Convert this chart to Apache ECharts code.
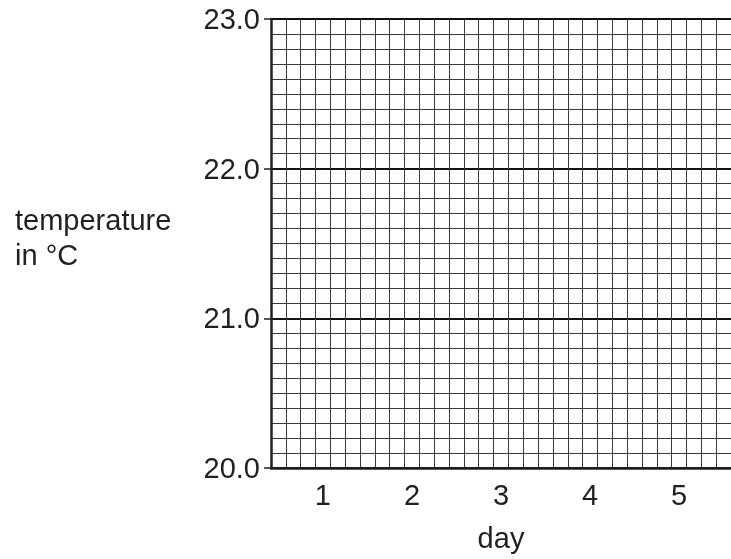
<!DOCTYPE html>
<html>
<head>
<meta charset="utf-8">
<script src="https://cdn.jsdelivr.net/npm/echarts@6/dist/echarts.min.js"></script>
<style>
html,body{margin:0;padding:0;background:#fff;}
#chart{width:731px;height:559px;}
</style>
</head>
<body>
<div id="chart"></div>
<script>
// ---- data ----
const days = [1, 2, 3, 4, 5];
const dayLabels = ['1', '2', '3', '4', '5'];
const temperatureValues = []; // blank graph: no readings plotted
const yMin = 20.0, yMax = 23.0, yMajorStep = 1.0, yMinorDivisions = 10;
const cellsPerDay = 6, totalCells = 31;
const dayAxisMin = 1 - 3.5 / cellsPerDay;
const dayAxisMax = dayAxisMin + totalCells / cellsPerDay;

const FONT = '"Liberation Sans", Arial, Helvetica, sans-serif';
const INK = '#231f20';
const FS = 29;

const chart = echarts.init(document.getElementById('chart'), null, {renderer: 'canvas'});
chart.setOption({
  animation: false,
  backgroundColor: '#ffffff',
  textStyle: {fontFamily: FONT},
  title: {
    text: 'temperature\nin\u00a0°C',
    left: 10, top: 199,
    textStyle: {fontFamily: FONT, fontSize: FS, fontWeight: 'normal', color: INK, lineHeight: 35}
  },
  grid: {left: 271, top: 19, right: -9, bottom: 87, containLabel: false},
  xAxis: [
    {
      type: 'value', position: 'top', min: 0, max: totalCells, interval: 1,
      axisLine: {show: false}, axisTick: {show: false}, axisLabel: {show: false},
      splitLine: {show: true, lineStyle: {color: '#3a3a3a', width: 1}}
    },
    {
      type: 'value', position: 'bottom', min: dayAxisMin, max: dayAxisMax,
      axisLine: {show: true, onZero: false, lineStyle: {color: INK, width: 2.5}},
      axisTick: {show: false},
      splitLine: {show: false},
      axisLabel: {
        show: true, customValues: days, margin: 14,
        fontFamily: FONT, fontSize: FS, color: INK,
        formatter: function (v) { const i = days.indexOf(Math.round(v)); return i >= 0 ? dayLabels[i] : ''; }
      },
      name: 'day', nameLocation: 'middle', nameGap: 57,
      nameTextStyle: {fontFamily: FONT, fontSize: FS, color: INK}
    }
  ],
  yAxis: {
    type: 'value', min: yMin, max: yMax, interval: yMajorStep,
    axisLine: {show: true, onZero: false, lineStyle: {color: INK, width: 2.5}},
    axisTick: {show: true, length: 7, lineStyle: {color: INK, width: 1.5}},
    axisLabel: {
      margin: 11, fontFamily: FONT, fontSize: FS, color: INK,
      verticalAlign: 'top', lineHeight: 4,
      formatter: function (v) { return v.toFixed(1); }
    },
    splitLine: {show: true, lineStyle: {color: '#111', width: 2}},
    minorTick: {show: false, splitNumber: yMinorDivisions},
    minorSplitLine: {show: true, lineStyle: {color: '#3a3a3a', width: 1}}
  },
  series: [{
    type: 'line', xAxisIndex: 1, yAxisIndex: 0, data: temperatureValues,
    symbol: 'none', silent: true
  }]
});
</script>
</body>
</html>
